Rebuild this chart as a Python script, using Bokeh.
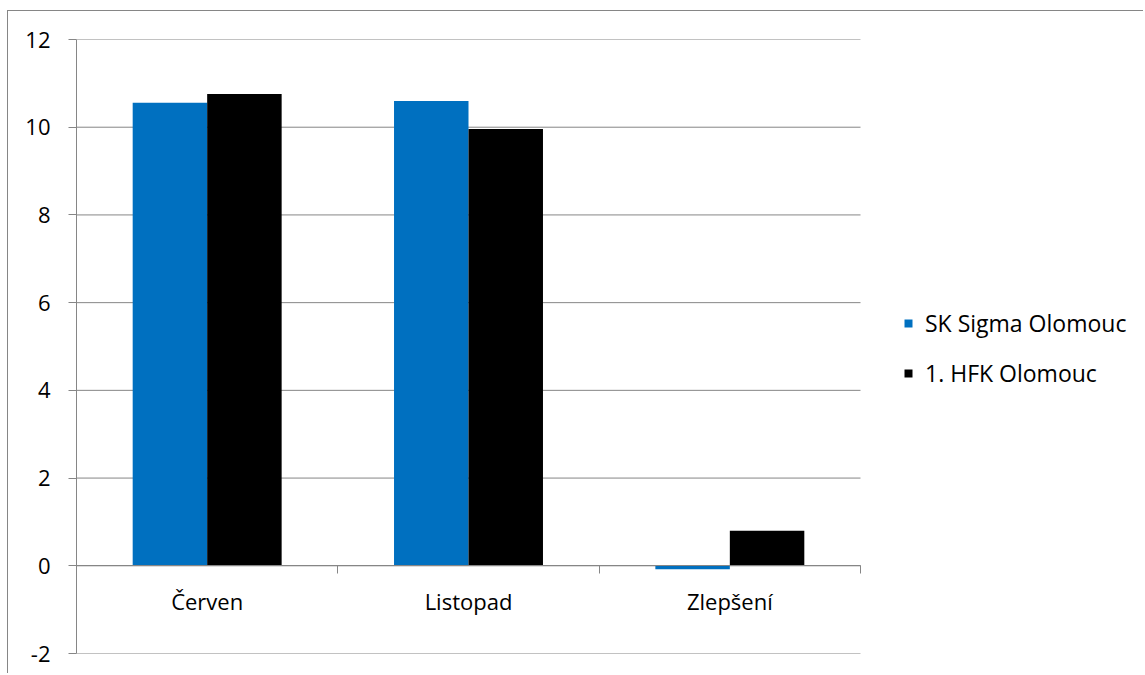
from bokeh.plotting import figure
from bokeh.models import (ColumnDataSource, Range1d, FixedTicker, Legend, LegendItem)
from bokeh.transform import dodge
from bokeh.embed import file_html
from bokeh.resources import INLINE

# ---- data ----
categories = ["Červen", "Listopad", "Zlepšení"]
series_names = ["SK Sigma Olomouc", "1. HFK Olomouc"]
sigma = [10.56, 10.60, -0.08]
hfk = [10.76, 9.96, 0.80]
y_ticks = [-2, 0, 2, 4, 6, 8, 10, 12]
colors = ["#0070C0", "#000000"]

FONT = "Open Sans"
FS = "22px"
GRAY = "#868686"

# ---- layout (pixels) ----
W, H = 1136, 663
LEFT, TOP, BOTTOM = 68, 28, 21
PLOT_W = 784          # width of the category area
FRAME_W = W - LEFT    # frame runs to the right edge (legend lives there)

n = len(categories)
centers = [i + 0.5 for i in range(n)]
src = ColumnDataSource(dict(x=centers, cat=categories, sigma=sigma, hfk=hfk))

p = figure(width=W, height=H,
           x_range=Range1d(0, n * FRAME_W / PLOT_W),
           y_range=Range1d(min(y_ticks), max(y_ticks)),
           output_backend="svg", toolbar_location=None,
           min_border_left=LEFT, min_border_top=TOP,
           min_border_right=0, min_border_bottom=BOTTOM)
p.outline_line_color = None
p.background_fill_color = "white"
p.border_fill_color = "white"
p.styles = {"margin-left": "7px", "margin-top": "10px",
            "border-top": f"1px solid {GRAY}", "border-left": f"1px solid {GRAY}"}

# horizontal gridlines over the category area only
p.xgrid.visible = False
p.ygrid.visible = False
p.segment(x0=[0] * len(y_ticks), x1=[n] * len(y_ticks), y0=y_ticks, y1=y_ticks,
          line_color=GRAY, line_width=1)

bw = 0.285
r1 = p.vbar(x=dodge("x", -bw / 2), top="sigma", width=bw,
            source=src, fill_color=colors[0], line_color=None)
r2 = p.vbar(x=dodge("x", bw / 2), top="hfk", width=bw,
            source=src, fill_color=colors[1], line_color=None)

# x axis at zero: labels at category centres, tick marks at boundaries
xa = p.xaxis[0]
xa.fixed_location = 0
xa.bounds = (0, n)
xa.ticker = FixedTicker(ticks=centers, minor_ticks=list(range(n + 1)))
xa.major_label_overrides = {c: lab for c, lab in zip(centers, categories)}
xa.axis_line_color = GRAY
xa.major_tick_line_color = None
xa.minor_tick_line_color = GRAY
xa.minor_tick_out = 8
xa.minor_tick_in = 0
xa.major_tick_out = 0
xa.major_tick_in = 0
xa.major_label_standoff = 12
xa.major_label_text_font = FONT
xa.major_label_text_font_size = FS
xa.major_label_text_color = "#000000"

# y axis
ya = p.yaxis[0]
ya.ticker = FixedTicker(ticks=y_ticks)
ya.major_label_overrides = {t: str(t) for t in y_ticks}
ya.axis_line_color = GRAY
ya.major_tick_line_color = GRAY
ya.major_tick_out = 8
ya.major_tick_in = 0
ya.minor_tick_line_color = None
ya.major_label_standoff = 18
ya.major_label_text_font = FONT
ya.major_label_text_font_size = FS
ya.major_label_text_color = "#000000"

legend = Legend(items=[LegendItem(label=series_names[0], renderers=[r1]),
                       LegendItem(label=series_names[1], renderers=[r2])],
                location=(827, 264), margin=0, padding=0, spacing=18,
                glyph_width=10, glyph_height=10, label_standoff=12,
                label_text_font=FONT, label_text_font_size="23px",
                label_text_color="#000000",
                border_line_color=None, background_fill_alpha=0)
p.add_layout(legend, "center")

open("out.html", "w").write(file_html(p, INLINE))
